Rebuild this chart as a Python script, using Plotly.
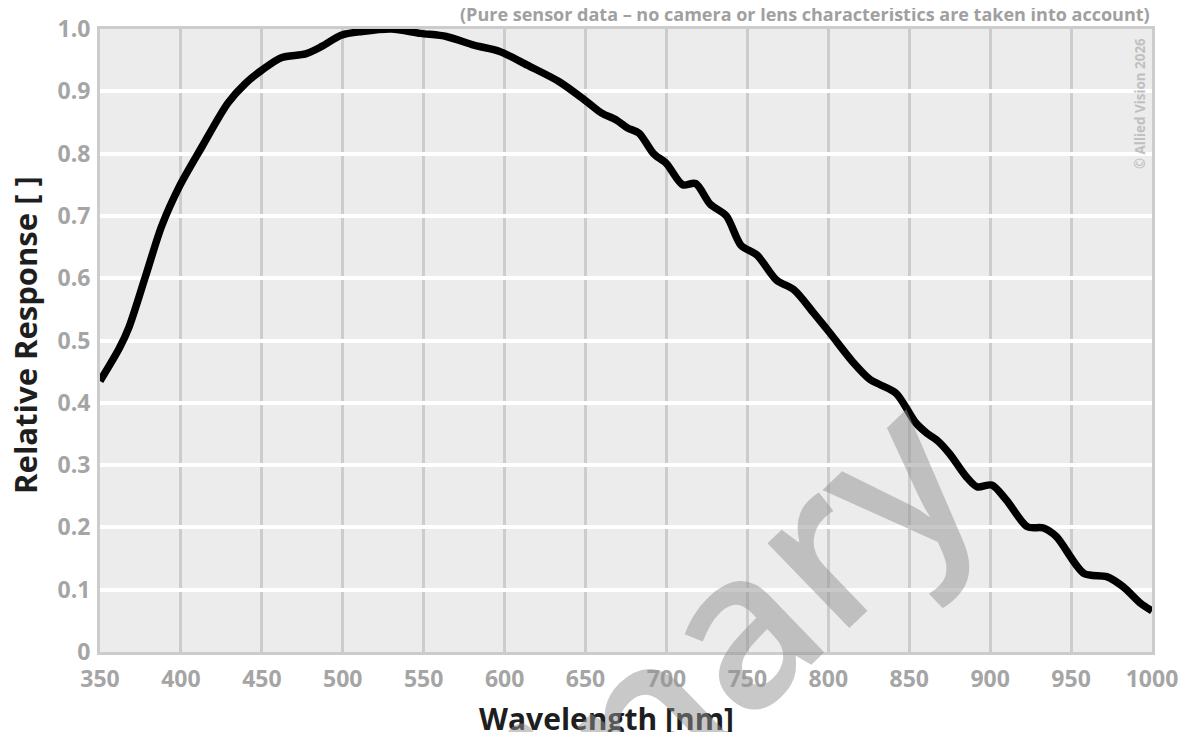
import plotly.graph_objects as go

# Data
wavelength_nm = [350, 362, 368, 378, 388, 399, 413, 429, 440, 450, 462, 477, 487, 499, 512, 530,
                 548, 564, 581, 597, 614, 634, 651, 660, 669, 676, 683, 692, 700, 710, 718, 727,
                 737, 746, 756, 768, 779, 791, 801, 815, 826, 832, 842, 854, 861, 868, 875, 885,
                 892, 901, 910, 923, 933, 941, 958, 972, 982, 993, 1000]
relative_response = [0.435, 0.488, 0.522, 0.602, 0.683, 0.747, 0.811, 0.881, 0.913, 0.934, 0.954,
                     0.960, 0.972, 0.990, 0.996, 1.000, 0.993, 0.988, 0.974, 0.964, 0.942, 0.915,
                     0.883, 0.865, 0.854, 0.841, 0.833, 0.800, 0.784, 0.750, 0.752, 0.719, 0.700,
                     0.653, 0.637, 0.597, 0.581, 0.544, 0.512, 0.466, 0.437, 0.429, 0.415, 0.368,
                     0.351, 0.338, 0.318, 0.282, 0.265, 0.268, 0.244, 0.201, 0.199, 0.185, 0.126,
                     0.121, 0.105, 0.078, 0.066]

x_ticks = [350, 400, 450, 500, 550, 600, 650, 700, 750, 800, 850, 900, 950, 1000]
y_ticks = [0, 0.1, 0.2, 0.3, 0.4, 0.5, 0.6, 0.7, 0.8, 0.9, 1.0]
y_tick_text = ["0", "0.1", "0.2", "0.3", "0.4", "0.5", "0.6", "0.7", "0.8", "0.9", "1.0"]

FONT = "Open Sans"
TICK_COLOR = "rgb(165,165,165)"
GRID_V = "rgb(204,204,204)"
TITLE_COLOR = "rgb(30,30,30)"

fig = go.Figure()
fig.add_trace(go.Scatter(
    x=wavelength_nm, y=relative_response, mode="lines",
    line=dict(color="black", width=7.5, shape="spline", smoothing=0.8),
    hoverinfo="skip", showlegend=False,
))

fig.update_layout(
    width=1177, height=724,
    margin=dict(l=92, r=33, t=21, b=80),
    paper_bgcolor="white", plot_bgcolor="rgb(236,236,236)",
    font=dict(family=FONT),
    xaxis=dict(
        range=[350, 1000], tickvals=x_ticks, ticks="", showgrid=True,
        gridcolor=GRID_V, gridwidth=2.5, zeroline=False, automargin=False,
        showline=True, linecolor=GRID_V, linewidth=3, mirror=True,
        tickfont=dict(family=FONT, size=23, color=TICK_COLOR, weight="bold"),
        ticklabelstandoff=4,
    ),
    yaxis=dict(
        range=[0, 1.0], tickvals=y_ticks, ticktext=y_tick_text, ticks="", showgrid=True,
        gridcolor="white", gridwidth=4, zeroline=False, automargin=False,
        showline=True, linecolor=GRID_V, linewidth=3, mirror=True,
        tickfont=dict(family=FONT, size=23, color=TICK_COLOR, weight="bold"),
        ticklabelstandoff=2,
    ),
)

# axis titles
fig.add_annotation(
    text="Wavelength [nm]", xref="paper", yref="paper", x=0.481, y=-0.106,
    xanchor="center", yanchor="middle", showarrow=False,
    font=dict(family=FONT, size=30, color=TITLE_COLOR, weight="bold"),
)
fig.add_annotation(
    text="Relative Response [ ]", xref="paper", yref="paper", x=-0.0713, y=0.509,
    xanchor="center", yanchor="middle", textangle=-90, showarrow=False,
    font=dict(family=FONT, size=31, color=TITLE_COLOR, weight="bold"),
)

fig.add_annotation(
    text="(Pure sensor data – no camera or lens characteristics are taken into account)",
    xref="paper", yref="paper", x=1.0, y=1.024, xanchor="right", yanchor="middle",
    showarrow=False,
    font=dict(family=FONT, size=18, color="rgb(160,160,160)", weight="bold"),
)
fig.add_annotation(
    text="© Allied Vision 2026",
    xref="paper", yref="paper", x=0.9886, y=0.8796, xanchor="center", yanchor="middle",
    textangle=-90, showarrow=False,
    font=dict(family=FONT, size=13.4, color="rgb(192,192,192)", weight="bold"),
)
fig.add_annotation(
    text="Preliminary",
    xref="paper", yref="paper", x=0.372, y=-0.329, xanchor="center", yanchor="middle",
    textangle=-44, showarrow=False,
    font=dict(family=FONT, size=218, color="rgba(145,145,145,0.5)", weight=600),
)

fig.write_html("out.html")
